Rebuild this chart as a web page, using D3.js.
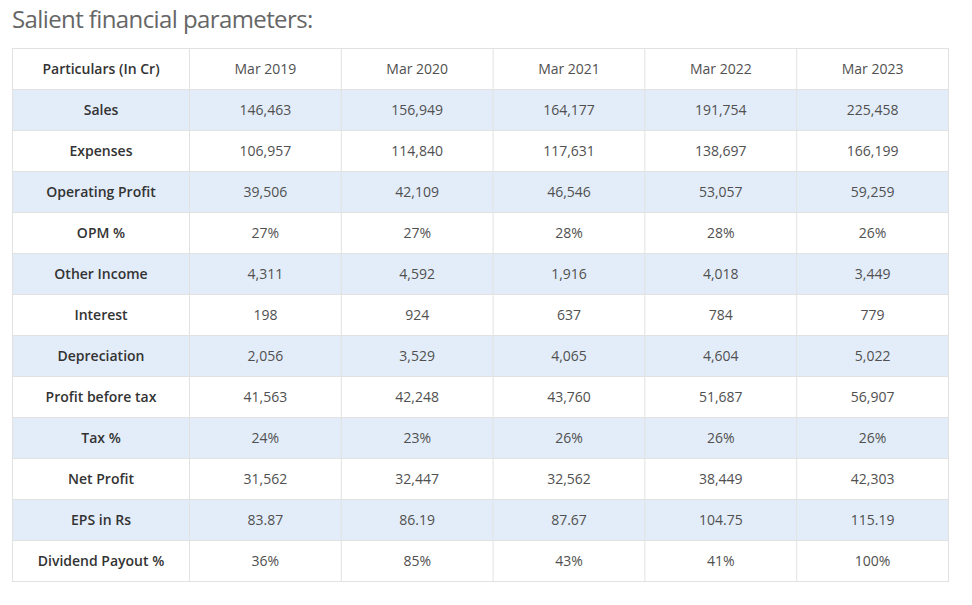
<!DOCTYPE html>
<html lang="en">
<head>
    <meta charset="UTF-8">
    <script src="https://cdnjs.cloudflare.com/ajax/libs/d3/7.8.5/d3.min.js"></script>
    <style>
        body { margin: 0; background: #fff; }
        text { font-family: "Open Sans", sans-serif; }
    </style>
</head>
<body>
    <svg id="viz" width="972" height="605"></svg>
    <script>
        const headLabel = 'Particulars (In Cr)';
        const years = ['Mar 2019', 'Mar 2020', 'Mar 2021', 'Mar 2022', 'Mar 2023'];
        const rowLabels = ['Sales', 'Expenses', 'Operating Profit', 'OPM %', 'Other Income', 'Interest',
            'Depreciation', 'Profit before tax', 'Tax %', 'Net Profit', 'EPS in Rs', 'Dividend Payout %'];

        const sales = ['146,463', '156,949', '164,177', '191,754', '225,458'];
        const expenses = ['106,957', '114,840', '117,631', '138,697', '166,199'];
        const operatingProfit = ['39,506', '42,109', '46,546', '53,057', '59,259'];
        const opm = ['27%', '27%', '28%', '28%', '26%'];
        const otherIncome = ['4,311', '4,592', '1,916', '4,018', '3,449'];
        const interest = ['198', '924', '637', '784', '779'];
        const depreciation = ['2,056', '3,529', '4,065', '4,604', '5,022'];
        const profitBeforeTax = ['41,563', '42,248', '43,760', '51,687', '56,907'];
        const tax = ['24%', '23%', '26%', '26%', '26%'];
        const netProfit = ['31,562', '32,447', '32,562', '38,449', '42,303'];
        const eps = ['83.87', '86.19', '87.67', '104.75', '115.19'];
        const dividendPayout = ['36%', '85%', '43%', '41%', '100%'];

        const rowValues = [sales, expenses, operatingProfit, opm, otherIncome, interest,
            depreciation, profitBeforeTax, tax, netProfit, eps, dividendPayout];

        const svg = d3.select('#viz');

        svg.append('text')
            .attr('x', 12)
            .attr('y', 28)
            .attr('font-size', 24)
            .attr('fill', '#666')
            .attr('letter-spacing', -0.6)
            .text('Salient financial parameters:');

        const left = 12.5, labelRight = 189.5, right = 948.5;
        const rowScale = d3.scaleBand().domain(['head', ...rowLabels]).range([48.5, 581.5]);
        const colScale = d3.scaleBand().domain(years).range([labelRight, right]);

        const rows = svg.selectAll('g.row')
            .data(['head', ...rowLabels])
            .join('g')
            .attr('class', 'row')
            .attr('transform', d => `translate(0,${rowScale(d)})`);

        rows.append('rect')
            .attr('x', left)
            .attr('width', right - left)
            .attr('height', rowScale.bandwidth())
            .attr('fill', (d, i) => i % 2 === 1 ? '#e3edf9' : '#fff')
            .attr('stroke', '#e2e2e2');

        rows.append('text')
            .attr('x', (left + labelRight) / 2)
            .attr('y', rowScale.bandwidth() / 2)
            .attr('dy', '0.35em')
            .attr('text-anchor', 'middle')
            .attr('font-size', 14)
            .attr('font-weight', 600)
            .attr('fill', '#333')
            .text(d => d === 'head' ? headLabel : d);

        rows.selectAll('text.val')
            .data((d, i) => d === 'head' ? years : rowValues[i - 1])
            .join('text')
            .attr('class', 'val')
            .attr('x', (v, j) => colScale(years[j]) + colScale.bandwidth() / 2)
            .attr('y', rowScale.bandwidth() / 2)
            .attr('dy', '0.35em')
            .attr('text-anchor', 'middle')
            .attr('font-size', 14)
            .attr('fill', '#505050')
            .text(v => v);

        // vertical cell borders
        svg.selectAll('line.col')
            .data([labelRight, ...years.slice(1).map(y => colScale(y))])
            .join('line')
            .attr('class', 'col')
            .attr('x1', d => d).attr('x2', d => d)
            .attr('y1', rowScale.range()[0]).attr('y2', rowScale.range()[1])
            .attr('stroke', '#e2e2e2');
    </script>
</body>
</html>
